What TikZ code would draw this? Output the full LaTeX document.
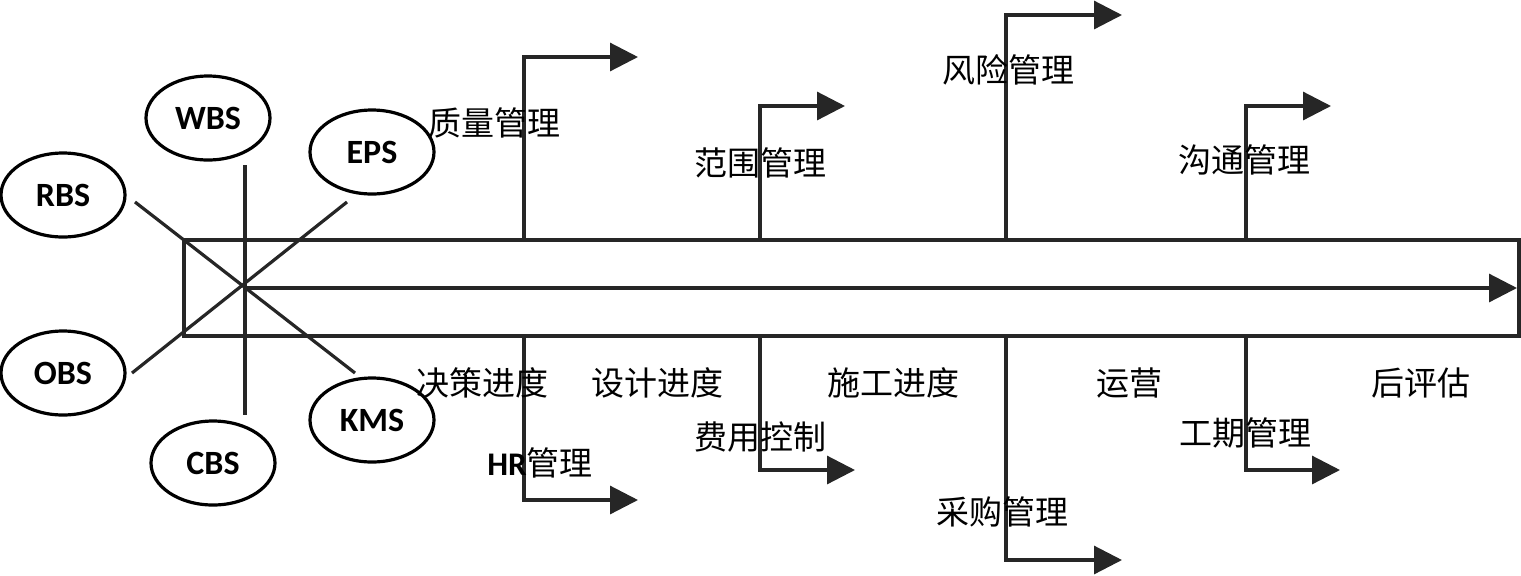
\documentclass[tikz,border=0pt]{standalone}
\usepackage{fontspec}
\setmainfont{Carlito}
\newfontfamily\cjk{Noto Sans CJK SC}
\usetikzlibrary{positioning, arrows.meta, shapes.geometric}

\begin{document}
\begin{tikzpicture}[
x=0.5pt, y=-0.5pt,
bs/.style={
ellipse,
draw,
line width=1.6pt,
minimum width=62pt,
minimum height=42pt,
inner sep=0pt,
font=\fontsize{17}{20}\selectfont\bfseries
},
lbl/.style={
inner sep=0pt,
font=\cjk\fontsize{16.5}{19}\selectfont
},
line/.style={
line width=1.6pt,
draw=black!85
},
branch/.style={
line,
-{Triangle[length=14pt,width=14pt]}
}
]

\useasboundingbox (0,0) rectangle (1521,575);

% main bar
\draw[line] (184,240) rectangle (1519,336);
\coordinate (hub) at (245,288);
\coordinate (tip) at (1517,288);
\draw[branch] (hub) -- (tip);

% breakdown structures
\node[bs] (wbs) at (208,118) {WBS};
\node[bs] (eps) at (372,152) {EPS};
\node[bs] (rbs) at (63,195) {RBS};
\node[bs] (obs) at (63,373) {OBS};
\node[bs] (kms) at (372,420) {KMS};
\node[bs] (cbs) at (213,463) {CBS};

\draw[line] ([shift={(0,-123)}]hub) -- ([shift={(0,127)}]hub);
\draw[line] ([shift={(-110,-86)}]hub) -- ([shift={(110,85)}]hub);
\draw[line] ([shift={(-113,85)}]hub) -- ([shift={(102,-86)}]hub);

% branches above the bar
\foreach \n/\bx/\by/\tx in {quality/524/57/638, scope/760/106/845, risk/1006/15/1122, comm/1246/106/1331} {
\coordinate (\n-s) at (\bx,240);
\coordinate (\n-e) at (\tx,\by);
\draw[branch] (\n-s) |- (\n-e);
}

% branches below the bar
\foreach \n/\bx/\by/\tx in {hr/524/500/638, cost/760/470/855, buy/1006/560/1122, time/1246/470/1340} {
\coordinate (\n-s) at (\bx,336);
\coordinate (\n-e) at (\tx,\by);
\draw[branch] (\n-s) |- (\n-e);
}

% labels
\node[lbl] (quality) at (494,123) {质量管理};
\node[lbl] (scope) at (760,163) {范围管理};
\node[lbl] (risk) at (1008,70) {风险管理};
\node[lbl] (comm) at (1244,160) {沟通管理};
\node[lbl] (decide) at (482,383) {决策进度};
\node[lbl] (design) at (657,383) {设计进度};
\node[lbl] (build) at (893,383) {施工进度};
\node[lbl] (operate) at (1129,383) {运营};
\node[lbl] (review) at (1421,383) {后评估};
\node[lbl] (hr) at (540,463) {{\normalfont\bfseries HR}管理};
\node[lbl] (cost) at (760,437) {费用控制};
\node[lbl] (time) at (1245,433) {工期管理};
\node[lbl] (buy) at (1002,512) {采购管理};

\end{tikzpicture}
\end{document}
